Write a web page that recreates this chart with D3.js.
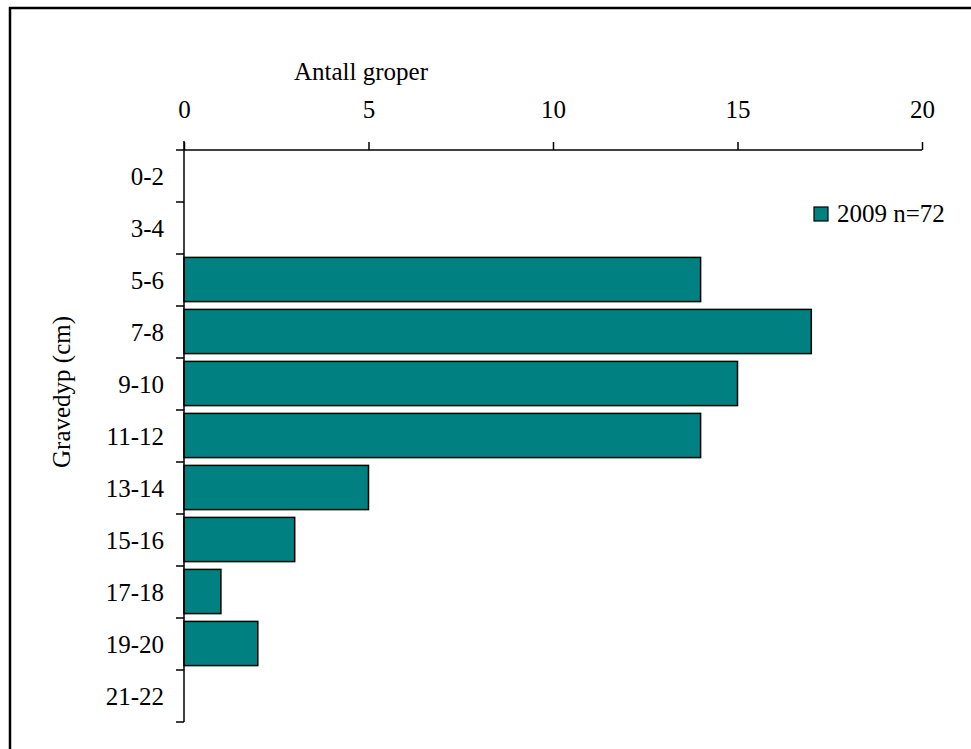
<!DOCTYPE html>
<html><head><meta charset="utf-8">
<script src="https://cdn.jsdelivr.net/npm/d3@7"></script>
<style>body{margin:0;background:#fff}svg{display:block}svg text{font-family:"Times New Roman","Liberation Serif",Tinos,"DejaVu Serif",serif !important;fill:#000}</style>
</head><body>
<script>
const categories = ["0-2","3-4","5-6","7-8","9-10","11-12","13-14","15-16","17-18","19-20","21-22"];
const values2009 = [0,0,14,17,15,14,5,3,1,2,0];
const xTicks = [0,5,10,15,20];
const seriesName = "2009 n=72";
const xTitle = "Antall groper";
const yTitle = "Gravedyp (cm)";

const W=971,H=749;
const svg=d3.select("body").append("svg").attr("width",W).attr("height",H);
svg.append("rect").attr("width",W).attr("height",H).attr("fill","#fff");
// frame (open to right/bottom)
svg.append("path").attr("d","M10,760V8H980").attr("fill","none").attr("stroke","#000").attr("stroke-width",2.5);

const x=d3.scaleLinear().domain([0,20]).range([184,922]);
const y=d3.scaleBand().domain(categories).range([150,722]).paddingInner(0.15).paddingOuter(0.075);
const fs=25;

// bars
svg.append("g").selectAll("rect").data(categories.map((c,i)=>({c,v:values2009[i]})).filter(d=>d.v>0))
 .join("rect")
 .attr("x",x(0)).attr("y",d=>y(d.c)-0.5).attr("width",d=>x(d.v)-x(0)).attr("height",y.bandwidth())
 .attr("fill","#008080").attr("stroke","#000").attr("stroke-width",1.5);

// x axis (top)
const gx=svg.append("g").attr("transform","translate(0,150)")
 .call(d3.axisTop(x).tickValues(xTicks).tickSize(8).tickPadding(24).tickFormat(d3.format("d")));
gx.attr("font-family",null).attr("font-size",null);
gx.select(".domain").attr("stroke","#000").attr("stroke-width",1.5).attr("d","M184,0H922");
gx.selectAll(".tick line").attr("stroke","#000").attr("stroke-width",1.5);
gx.selectAll("text").attr("font-size",fs);

// y axis
const bounds=categories.map(c=>y(c)-y.step()*y.paddingInner()/2);
bounds.push(722);
const gy=svg.append("g");
gy.append("line").attr("x1",184).attr("x2",184).attr("y1",141).attr("y2",722).attr("stroke","#000").attr("stroke-width",1.5);
gy.selectAll("line.t").data(bounds).join("line").attr("class","t")
 .attr("x1",176).attr("x2",184).attr("y1",d=>d).attr("y2",d=>d).attr("stroke","#000").attr("stroke-width",1.5);
gy.selectAll("text").data(categories).join("text")
 .attr("x",164).attr("y",d=>y(d)+y.bandwidth()/2).attr("dy","0.35em")
 .attr("text-anchor","end").attr("font-size",fs).text(d=>d);

// titles
svg.append("text").attr("x",361).attr("y",80).attr("text-anchor","middle").attr("font-size",fs).text(xTitle);
svg.append("text").attr("transform","translate(70,392) rotate(-90)").attr("text-anchor","middle").attr("font-size",fs).text(yTitle);

// legend
svg.append("rect").attr("x",814).attr("y",207).attr("width",14).attr("height",14).attr("fill","#008080").attr("stroke","#000").attr("stroke-width",1.2);
svg.append("text").attr("x",837).attr("y",222).attr("font-size",fs).text(seriesName);
</script>
</body></html>
